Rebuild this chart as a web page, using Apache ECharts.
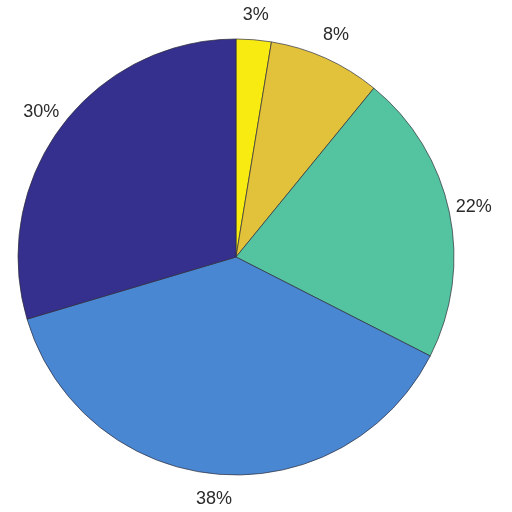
<!DOCTYPE html>
<html lang="en">
<head>
  <meta charset="UTF-8">
  <title>pie</title>
  <script src="https://cdn.jsdelivr.net/npm/echarts@6/dist/echarts.min.js"></script>
  <style>
    html, body { margin: 0; padding: 0; background: #fff; }
    #main { width: 512px; height: 512px; }
  </style>
</head>
<body>
<div id="main"></div>
<script>
  // slice shares, clockwise from 12 o'clock
  var names = ['A', 'B', 'C', 'D', 'E'];
  var shares = [2.6, 8.3, 21.6, 37.9, 29.6];
  var colors = ['#f8eb12', '#e2c23b', '#54c3a0', '#4a87d3', '#35308e'];

  var pieData = names.map(function (n, i) {
    return {name: n, value: shares[i], itemStyle: {color: colors[i]}};
  });
  var labelData = names.map(function (n, i) {
    return {name: n, value: shares[i]};
  });

  var myChart = echarts.init(document.getElementById('main'));
  var option = {
    animation: false,
    series: [
      {
        type: 'pie',
        center: [236, 257],
        radius: [0, 218],
        startAngle: 90,
        clockwise: true,
        data: pieData,
        label: {show: false},
        labelLine: {show: false},
        itemStyle: {borderColor: '#2e2e3a', borderWidth: 0.7},
        emphasis: {disabled: true}
      },
      {
        // invisible ring that only carries the percent labels
        type: 'pie',
        center: [236, 257],
        radius: [218, 262],
        startAngle: 90,
        clockwise: true,
        silent: true,
        data: labelData,
        itemStyle: {color: 'rgba(0,0,0,0)'},
        label: {
          show: true,
          position: 'inside',
          fontFamily: 'Liberation Sans, Arial, sans-serif',
          fontSize: 18,
          color: '#2b2b2b',
          formatter: function (p) { return Math.round(p.percent) + '%'; }
        },
        labelLine: {show: false},
        emphasis: {disabled: true}
      }
    ]
  };
  option && myChart.setOption(option);
</script>
</body>
</html>
